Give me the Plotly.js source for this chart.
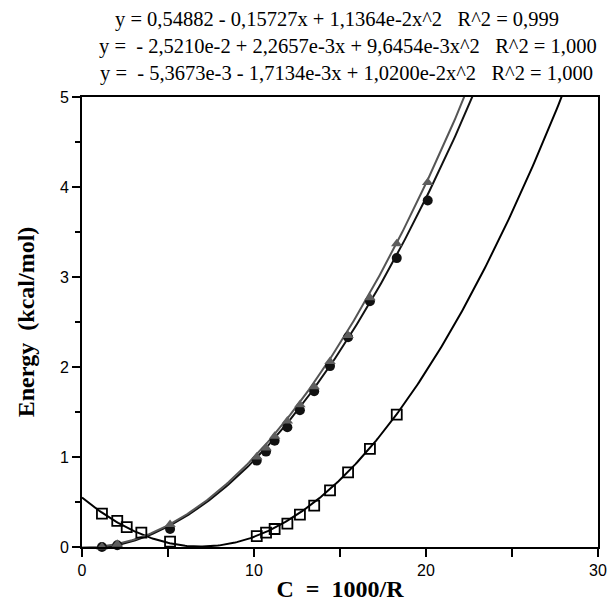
<!DOCTYPE html>
<html>
<head>
<meta charset="utf-8">
<script src="https://cdn.plot.ly/plotly-3.0.1.min.js"></script>
<style>html,body{margin:0;padding:0;background:#fff;}</style>
</head>
<body>
<div id="chart" style="width:610px;height:610px;"></div>
<script>
// Data
const squareX = [1.16, 2.05, 2.6, 3.45, 5.12, 10.16, 10.7, 11.2, 11.94, 12.67, 13.5, 14.42, 15.47, 16.74, 18.3];
const squareY = [0.37, 0.29, 0.22, 0.16, 0.06, 0.12, 0.16, 0.20, 0.26, 0.36, 0.46, 0.63, 0.83, 1.09, 1.47];

const circleX = [1.16, 2.05, 5.12, 10.16, 10.7, 11.2, 11.94, 12.67, 13.5, 14.42, 15.47, 16.74, 18.3, 20.1];
const circleY = [0.0, 0.02, 0.20, 0.96, 1.06, 1.18, 1.33, 1.52, 1.73, 2.01, 2.33, 2.73, 3.21, 3.85];

const triangleX = [1.16, 2.05, 5.12, 10.16, 10.7, 11.2, 11.94, 12.67, 13.5, 14.42, 15.47, 16.74, 18.3, 20.1];
const triangleY = [0.0, 0.03, 0.25, 1.00, 1.10, 1.23, 1.40, 1.58, 1.78, 2.06, 2.35, 2.77, 3.37, 4.05];

// Fit coefficients printed on the chart (c0, c1, c2)
const squareFit = [0.54882, -0.15727, 1.1364e-2];
const circleFit = [-2.5210e-2, 2.2657e-3, 9.6454e-3];
const triangleFit = [-5.3673e-3, -1.7134e-3, 1.0200e-2];

const equationTexts = [
  "y = 0,54882 - 0,15727x + 1,1364e-2x^2   R^2 = 0,999",
  "y =  - 2,5210e-2 + 2,2657e-3x + 9,6454e-3x^2   R^2 = 1,000",
  "y =  - 5,3673e-3 - 1,7134e-3x + 1,0200e-2x^2   R^2 = 1,000"
];

const xTickVals = [0, 10, 20, 30];
const yTickVals = [0, 1, 2, 3, 4, 5];

function fitCurve(c) {
  const xs = [], ys = [];
  for (let i = 0; i <= 300; i++) {
    const x = i * 0.1;
    xs.push(x);
    ys.push(c[0] + c[1] * x + c[2] * x * x);
  }
  return {xs, ys};
}

const sq = fitCurve(squareFit), ci = fitCurve(circleFit), tr = fitCurve(triangleFit);

const traces = [
  {x: sq.xs, y: sq.ys, mode: 'lines', line: {color: '#000', width: 2}, hoverinfo: 'skip'},
  {x: ci.xs, y: ci.ys, mode: 'lines', line: {color: '#111', width: 2}, hoverinfo: 'skip'},
  {x: tr.xs, y: tr.ys, mode: 'lines', line: {color: '#555', width: 2}, hoverinfo: 'skip'},
  {x: squareX, y: squareY, mode: 'markers', cliponaxis: false,
   marker: {symbol: 'square-open', size: 10, color: '#000', line: {width: 1.8, color: '#000'}}},
  {x: circleX, y: circleY, mode: 'markers', cliponaxis: false,
   marker: {symbol: 'circle', size: 10, color: '#111'}},
  {x: triangleX, y: triangleY, mode: 'markers', cliponaxis: false,
   marker: {symbol: 'triangle-up', size: 10, color: '#5e5e5e'}}
];

const annotations = equationTexts.map((t, i) => ({
  text: t, xref: 'paper', yref: 'paper', x: [0.495, 0.515, 0.512][i], y: 1, yshift: [78, 51, 24][i],
  xanchor: 'center', yanchor: 'middle', showarrow: false,
  font: {family: 'Liberation Serif, Times New Roman, serif', size: 20.5, color: '#000'}
}));

const layout = {
  width: 610, height: 610,
  margin: {l: 82, r: 12, t: 97, b: 63},
  paper_bgcolor: '#fff', plot_bgcolor: '#fff',
  showlegend: false,
  annotations: annotations,
  xaxis: {
    range: [0, 30], tickvals: xTickVals, ticktext: xTickVals.map(String),
    ticks: 'outside', ticklen: 8, tickwidth: 2, tickcolor: '#000',
    minor: {dtick: 5, ticks: 'outside', ticklen: 8, tickwidth: 2, tickcolor: '#000'},
    showline: true, linecolor: '#000', linewidth: 2, mirror: true,
    showgrid: false, zeroline: false,
    tickfont: {family: 'Liberation Sans, Arial, sans-serif', size: 16, color: '#000'},
    title: {text: 'C  =  1000/R', standoff: 2,
            font: {family: 'Liberation Serif, Times New Roman, serif', size: 24, color: '#000', weight: 'bold'}}
  },
  yaxis: {
    range: [0, 5], tickvals: yTickVals, ticktext: yTickVals.map(String),
    ticks: 'outside', ticklen: 8, tickwidth: 2, tickcolor: '#000',
    minor: {dtick: 0.5, ticks: 'outside', ticklen: 5, tickwidth: 1.5, tickcolor: '#000'},
    showline: true, linecolor: '#000', linewidth: 2, mirror: true,
    showgrid: false, zeroline: false,
    tickfont: {family: 'Liberation Sans, Arial, sans-serif', size: 16, color: '#000'},
    title: {text: 'Energy  (kcal/mol)', standoff: 18,
            font: {family: 'Liberation Serif, Times New Roman, serif', size: 24, color: '#000', weight: 'bold'}}
  }
};

Plotly.newPlot('chart', traces, layout, {displayModeBar: false, staticPlot: true});
</script>
</body>
</html>
